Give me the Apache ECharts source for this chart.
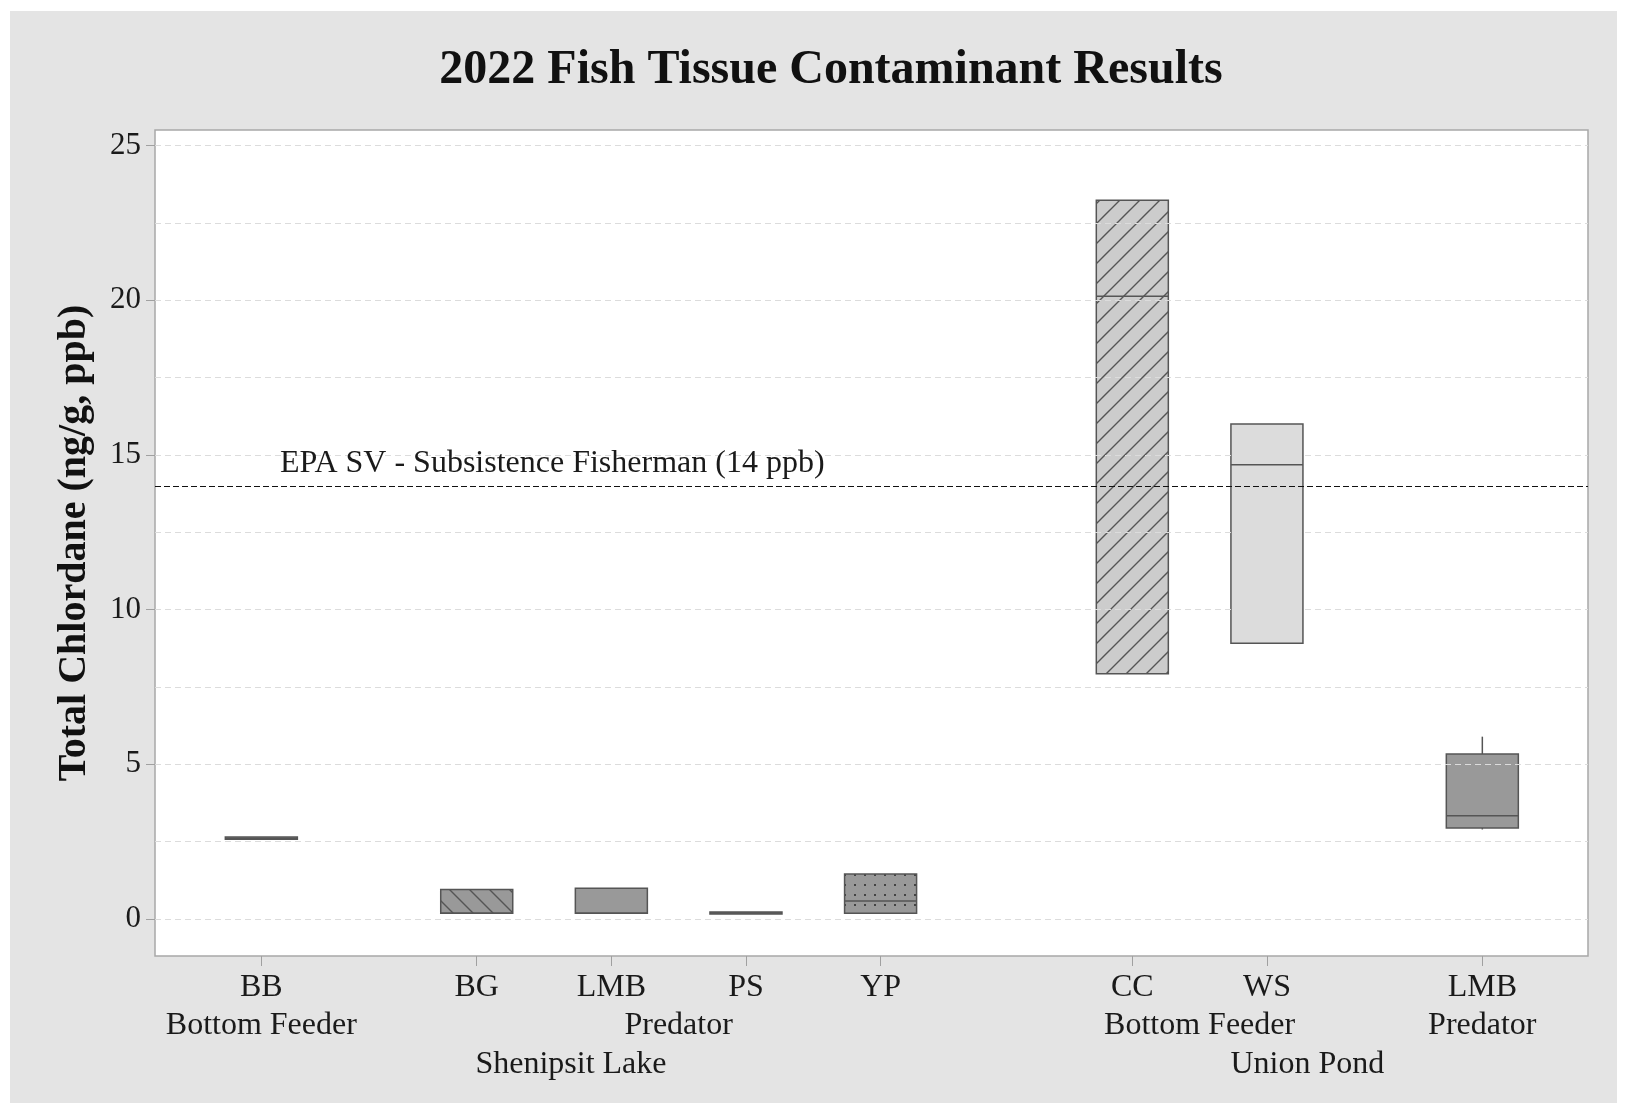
<!DOCTYPE html>
<html>
<head>
<meta charset="utf-8">
<script src="https://cdn.jsdelivr.net/npm/echarts@6/dist/echarts.min.js"></script>
<style>
  html, body { margin: 0; padding: 0; background: #ffffff; }
  #panel { position: absolute; left: 10px; top: 11px; width: 1607px; height: 1092px; background: #e4e4e4; }
  #chart { position: absolute; left: 0; top: 0; width: 1636px; height: 1112px; }
</style>
</head>
<body>
<div id="panel"></div>
<div id="chart"></div>
<script>
// Total chlordane in fish tissue (ng/g), 2022 survey
const species   = ['BB', 'BG', 'LMB', 'PS', 'YP', 'CC', 'WS', 'LMB'];
const feeding   = ['Bottom Feeder', 'Predator', 'Predator', 'Predator', 'Predator',
                   'Bottom Feeder', 'Bottom Feeder', 'Predator'];
const waterbody = ['Shenipsit Lake', 'Shenipsit Lake', 'Shenipsit Lake', 'Shenipsit Lake', 'Shenipsit Lake',
                   'Union Pond', 'Union Pond', 'Union Pond'];
const whiskerLow  = [2.57, 0.18, 0.18, 0.16, 0.18,  7.92,  8.91, 2.89];
const quartile1   = [2.57, 0.18, 0.18, 0.16, 0.18,  7.92,  8.91, 2.94];
const medianVal   = [2.61, 0.18, 0.18, 0.19, 0.58, 20.13, 14.68, 3.33];
const quartile3   = [2.65, 0.95, 0.99, 0.22, 1.45, 23.23, 16.00, 5.33];
const whiskerHigh = [2.65, 0.95, 0.99, 0.22, 1.45, 23.23, 16.00, 5.89];
const yTickLabels = [0, 5, 10, 15, 20, 25];
const yGridValues = [0, 2.5, 5, 7.5, 10, 12.5, 15, 17.5, 20, 22.5, 25];
const epaLimit = 14;

const FONT = '"Liberation Serif", "DejaVu Serif", serif';
const INK = '#1a1a1a';
const EDGE = '#555555';

// Slot positions along the x axis: unit steps inside a feeding group,
// wider gaps between feeding groups and between water bodies.
const FEED_GAP = 1.6, LAKE_GAP = 1.87;
const positions = [];
species.forEach((s, i) => {
  if (i === 0) { positions.push(0); return; }
  let step = 1;
  if (waterbody[i] !== waterbody[i - 1]) step = LAKE_GAP;
  else if (feeding[i] !== feeding[i - 1]) step = FEED_GAP;
  positions.push(+(positions[i - 1] + step).toFixed(4));
});

function runs(keyFn) {
  const out = [];
  species.forEach((s, i) => {
    const k = keyFn(i);
    const last = out[out.length - 1];
    if (last && last.key === k) last.end = i; else out.push({ key: k, start: i, end: i });
  });
  return out.map(r => ({
    label: r.key.split('|').pop(),
    pos: +((positions[r.start] + positions[r.end]) / 2).toFixed(4)
  }));
}
const feedGroups = runs(i => waterbody[i] + '|' + feeding[i]);
const lakeGroups = runs(i => waterbody[i]);
const speciesGroups = species.map((s, i) => ({ label: s, pos: positions[i] }));

function lookup(list, v) {
  const hit = list.find(g => Math.abs(g.pos - v) < 1e-3);
  return hit ? hit.label : '';
}

// Fill patterns
function hatch(bg, forward) {
  const c = document.createElement('canvas');
  c.width = 20; c.height = 20;
  const g = c.getContext('2d');
  g.fillStyle = bg; g.fillRect(0, 0, 20, 20);
  g.strokeStyle = EDGE; g.lineWidth = 1.4;
  g.beginPath();
  if (forward) {
    g.moveTo(-2, 22); g.lineTo(22, -2);
    g.moveTo(-2, 2); g.lineTo(2, -2);
    g.moveTo(18, 22); g.lineTo(22, 18);
  } else {
    g.moveTo(-2, -2); g.lineTo(22, 22);
    g.moveTo(18, -2); g.lineTo(22, 2);
    g.moveTo(-2, 18); g.lineTo(2, 22);
  }
  g.stroke();
  return { image: c, repeat: 'repeat' };
}
function dots(bg) {
  const c = document.createElement('canvas');
  c.width = 10; c.height = 10;
  const g = c.getContext('2d');
  g.fillStyle = bg; g.fillRect(0, 0, 10, 10);
  g.fillStyle = '#444';
  g.fillRect(4, 4, 2, 2);
  return { image: c, repeat: 'repeat' };
}
const boxFills = ['#999999', hatch('#999999', false), '#999999', '#999999', dots('#999999'),
                  hatch('#cccccc', true), '#dcdcdc', '#999999'];

const boxData = species.map((s, i) =>
  [positions[i], whiskerLow[i], quartile1[i], medianVal[i], quartile3[i], whiskerHigh[i]]);

const BOX_W = 0.535;
function renderBox(params, api) {
  const x = api.value(0);
  const half = api.size([BOX_W, 0])[0] / 2;
  const pLow = api.coord([x, api.value(1)]);
  const pQ1 = api.coord([x, api.value(2)]);
  const pMed = api.coord([x, api.value(3)]);
  const pQ3 = api.coord([x, api.value(4)]);
  const pHigh = api.coord([x, api.value(5)]);
  const stroke = { stroke: EDGE, lineWidth: 1.5, fill: null };
  return {
    type: 'group',
    children: [
      { type: 'line', shape: { x1: pQ3[0], y1: pQ3[1], x2: pHigh[0], y2: pHigh[1] }, style: stroke },
      { type: 'line', shape: { x1: pQ1[0], y1: pQ1[1], x2: pLow[0], y2: pLow[1] }, style: stroke },
      { type: 'rect', shape: { x: pQ3[0] - half, y: pQ3[1], width: half * 2, height: pQ1[1] - pQ3[1] },
        style: { fill: boxFills[params.dataIndex], stroke: EDGE, lineWidth: 1.5 } },
      { type: 'line', shape: { x1: pMed[0] - half, y1: pMed[1], x2: pMed[0] + half, y2: pMed[1] }, style: stroke }
    ]
  };
}

const X_MIN = -0.79, X_MAX = 9.855;
const LABEL_SIZE = 32;
function labelAxis(groups, offset) {
  return {
    type: 'value', gridIndex: 0, position: 'bottom', offset: offset,
    min: X_MIN, max: X_MAX,
    axisLine: { show: false, onZero: false }, axisTick: { show: false }, splitLine: { show: false },
    axisLabel: {
      customValues: groups.map(g => g.pos),
      formatter: v => lookup(groups, v),
      fontFamily: FONT, fontSize: LABEL_SIZE, color: INK, margin: 16
    }
  };
}

const chart = echarts.init(document.getElementById('chart'), null, { renderer: 'canvas' });
chart.setOption({
  animation: false,
  backgroundColor: 'transparent',
  title: {
    text: '2022 Fish Tissue Contaminant Results',
    left: 826, top: 42, textAlign: 'center',
    textStyle: { fontFamily: FONT, fontWeight: 'bold', fontSize: 48, color: '#111' }
  },
  grid: {
    left: 155, top: 130, right: 48, bottom: 156,
    show: true, backgroundColor: '#ffffff', borderColor: '#a8a8a8', borderWidth: 1.5
  },
  xAxis: [
    {
      type: 'value', min: X_MIN, max: X_MAX, position: 'bottom',
      axisLine: { show: false, onZero: false },
      axisTick: { show: true, customValues: positions, length: 10, lineStyle: { color: '#a0a0a0' } },
      splitLine: { show: false },
      axisLabel: {
        customValues: positions,
        formatter: v => lookup(speciesGroups, v),
        fontFamily: FONT, fontSize: LABEL_SIZE, color: INK, margin: 16
      }
    },
    labelAxis(feedGroups, 38),
    labelAxis(lakeGroups, 77)
  ],
  yAxis: {
    type: 'value', min: -1.2, max: 25.5, position: 'left',
    name: 'Total Chlordane (ng/g, ppb)', nameLocation: 'middle', nameGap: 60,
    nameTextStyle: { fontFamily: FONT, fontWeight: 'bold', fontSize: 40, color: '#111' },
    axisLine: { show: false, onZero: false },
    axisTick: { show: true, customValues: yTickLabels, length: 9, lineStyle: { color: '#a0a0a0' } },
    axisLabel: { customValues: yTickLabels, fontFamily: FONT, fontSize: 31, color: INK, margin: 14 },
    splitLine: { show: false }
  },
  series: [
    {
      type: 'line', data: [], z: 1, silent: true,
      markLine: {
        silent: true, symbol: ['none', 'none'], label: { show: false },
        lineStyle: { type: [6, 4], color: '#dcdcdc', width: 1 },
        data: yGridValues.map(v => ({ yAxis: v }))
      }
    },
    {
      type: 'line', data: [], z: 2, silent: true,
      markLine: {
        silent: true, symbol: ['none', 'none'],
        lineStyle: { type: [6, 3], color: '#111111', width: 1.2 },
        label: {
          show: true, position: 'insideStartTop', distance: [125, 6],
          formatter: `EPA SV - Subsistence Fisherman (${epaLimit} ppb)`,
          fontFamily: FONT, fontSize: 32, color: INK
        },
        data: [{ yAxis: epaLimit }]
      }
    },
    {
      type: 'custom', z: 3,
      renderItem: renderBox,
      encode: { x: 0, y: [1, 2, 3, 4, 5] },
      data: boxData
    }
  ]
});
</script>
</body>
</html>
